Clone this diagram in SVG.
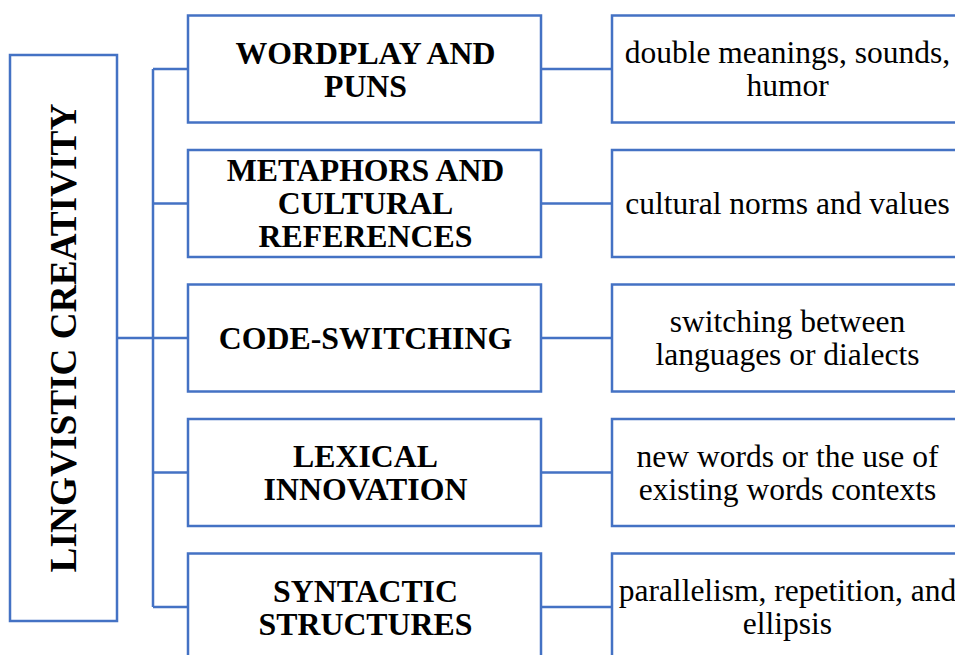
<svg xmlns="http://www.w3.org/2000/svg" width="955" height="655" viewBox="0 0 955 655">
<style>
.box{fill:#fff;stroke:#4472C4;stroke-width:2.5}
.ln{fill:none;stroke:#4472C4;stroke-width:2.5}
.b{font-family:"Liberation Serif","Times New Roman",serif;font-weight:bold;font-size:31.8px;text-anchor:middle;fill:#000}
.r{font-family:"Liberation Serif","Times New Roman",serif;font-size:31.5px;text-anchor:middle;fill:#000}
.v{font-family:"Liberation Serif","Times New Roman",serif;font-weight:bold;font-size:37.3px;text-anchor:middle;fill:#000}
</style>
<rect width="955" height="655" fill="#fff"/>
<g id="connectors">
<path class="ln" d="M117,338H153M153,69V607M153,69H188M153,203.5H188M153,338H188M153,472.5H188M153,607H188"/>
<path class="ln" d="M541,69H612M541,203.5H612M541,338H612M541,472.5H612M541,607H612"/>
</g>
<g id="root">
<rect class="box" x="10" y="55" width="107" height="566"/>
<text class="v" transform="translate(76,338) rotate(-90)">LINGVISTIC CREATIVITY</text>
</g>
<g id="n1">
<rect class="box" x="188" y="15.5" width="353" height="107"/>
<text class="b" x="365.5" y="63.5">WORDPLAY AND</text>
<text class="b" x="365.5" y="96.5">PUNS</text>
</g>
<g id="n2">
<rect class="box" x="188" y="150" width="353" height="107"/>
<text class="b" x="365.5" y="181">METAPHORS AND</text>
<text class="b" x="365.5" y="214">CULTURAL</text>
<text class="b" x="365.5" y="247">REFERENCES</text>
</g>
<g id="n3">
<rect class="box" x="188" y="284.5" width="353" height="107"/>
<text class="b" x="365.5" y="349">CODE-SWITCHING</text>
</g>
<g id="n4">
<rect class="box" x="188" y="419" width="353" height="107"/>
<text class="b" x="365.5" y="467">LEXICAL</text>
<text class="b" x="365.5" y="500">INNOVATION</text>
</g>
<g id="n5">
<rect class="box" x="188" y="553.5" width="353" height="107"/>
<text class="b" x="365.5" y="601.5">SYNTACTIC</text>
<text class="b" x="365.5" y="634.5">STRUCTURES</text>
</g>
<g id="d1">
<rect class="box" x="612" y="15.5" width="353" height="107"/>
<text class="r" x="787.5" y="62.5">double meanings, sounds,</text>
<text class="r" x="787.5" y="95.5">humor</text>
</g>
<g id="d2">
<rect class="box" x="612" y="150" width="353" height="107"/>
<text class="r" x="787.5" y="214">cultural norms and values</text>
</g>
<g id="d3">
<rect class="box" x="612" y="284.5" width="353" height="107"/>
<text class="r" x="787.5" y="332">switching between</text>
<text class="r" x="787.5" y="365">languages or dialects</text>
</g>
<g id="d4">
<rect class="box" x="612" y="419" width="353" height="107"/>
<text class="r" x="787.5" y="466.5">new words or the use of</text>
<text class="r" x="787.5" y="499.5">existing words contexts</text>
</g>
<g id="d5">
<rect class="box" x="612" y="553.5" width="353" height="107"/>
<text class="r" x="787.5" y="601">parallelism, repetition, and</text>
<text class="r" x="787.5" y="634">ellipsis</text>
</g>
</svg>
